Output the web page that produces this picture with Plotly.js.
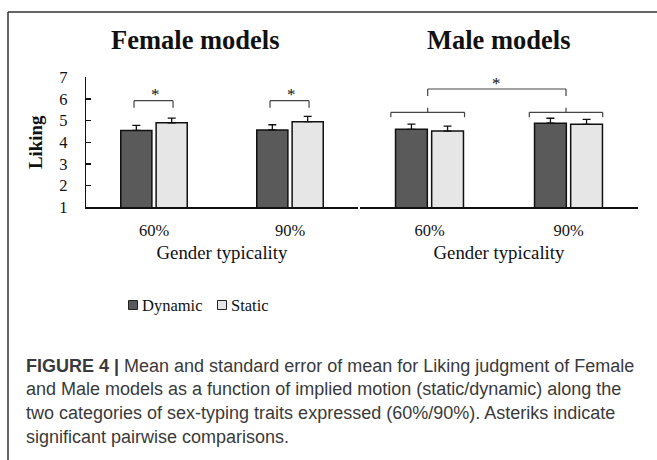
<!DOCTYPE html>
<html>
<head>
<meta charset="utf-8">
<script src="https://cdn.plot.ly/plotly-3.0.1.min.js"></script>
<style>html,body{margin:0;padding:0;background:#fff;}#chart{width:657px;height:460px;}</style>
</head>
<body>
<div id="chart"></div>
<script>
// ---- data ----
const categories = ["60%", "90%"];
const femaleDynamic = [4.55, 4.57];
const femaleDynamicSE = [0.23, 0.24];
const femaleStatic = [4.90, 4.95];
const femaleStaticSE = [0.22, 0.25];
const maleDynamic = [4.60, 4.88];
const maleDynamicSE = [0.24, 0.23];
const maleStatic = [4.52, 4.83];
const maleStaticSE = [0.23, 0.23];
const seriesNames = ["Dynamic", "Static"];
const panelTitles = ["Female models", "Male models"];
const yTicks = [1, 2, 3, 4, 5, 6, 7];
const captionLines = [
  "<b>FIGURE 4 |</b> Mean and standard error of mean for Liking judgment of Female",
  "and Male models as a function of implied motion (static/dynamic) along the",
  "two categories of sex-typing traits expressed (60%/90%). Asteriks indicate",
  "significant pairwise comparisons."
];

const W = 657, H = 460;
const px = x => x / W;
const py = y => 1 - y / H;
const darkFill = "#5a5a5a", lightFill = "#e6e6e6";
const serif = "Liberation Serif, Times New Roman, serif";
const sans = "Liberation Sans, Arial, Helvetica, sans-serif";

function barTrace(y, se, name, fill, xa, ya) {
  return {
    type: "bar", x: categories, y: y, name: name, xaxis: xa, yaxis: ya,
    marker: {color: fill, line: {color: "#111", width: 1.5}},
    error_y: {type: "data", array: se, arrayminus: se.map(() => 0), symmetric: false,
              color: "#111", thickness: 1.3, width: 4},
    showlegend: false, hoverinfo: "skip"
  };
}

const data = [
  barTrace(femaleDynamic, femaleDynamicSE, seriesNames[0], darkFill, "x", "y"),
  barTrace(femaleStatic, femaleStaticSE, seriesNames[1], lightFill, "x", "y"),
  barTrace(maleDynamic, maleDynamicSE, seriesNames[0], darkFill, "x2", "y2"),
  barTrace(maleStatic, maleStaticSE, seriesNames[1], lightFill, "x2", "y2")
];

const yDomain = [py(207.3), py(77.3)];
const xAxisCommon = {
  type: "category", showline: true, linecolor: "#111", linewidth: 1.3,
  ticks: "", showgrid: false, zeroline: false,
  tickfont: {family: serif, size: 16.5, color: "#111"},
  ticklabelstandoff: 8,
  title: {text: "Gender typicality", font: {family: serif, size: 18.8, color: "#111"}, standoff: 6},
  automargin: false
};

const lineStyle = {color: "#444", width: 1.2};
function seg(xref, yref, x0, y0, x1, y1) {
  return {type: "line", xref: xref, yref: yref, x0: x0, y0: y0, x1: x1, y1: y1, line: lineStyle};
}
function bracket(xref, yref, xa, xb, yTop, yFoot) {
  return [seg(xref, yref, xa, yTop, xb, yTop), seg(xref, yref, xa, yTop, xa, yFoot), seg(xref, yref, xb, yTop, xb, yFoot)];
}

let shapes = [];
// female brackets
shapes = shapes.concat(bracket("x", "y", -0.147, 0.14, 5.92, 5.6));
shapes = shapes.concat(bracket("x", "y", 0.853, 1.14, 5.92, 5.6));
// male small brackets with centre ticks
shapes = shapes.concat(bracket("x2", "y2", -0.278, 0.252, 5.384, 5.153));
shapes.push(seg("x2", "y2", -0.013, 5.384, -0.013, 5.6));
shapes = shapes.concat(bracket("x2", "y2", 0.718, 1.246, 5.384, 5.153));
shapes.push(seg("x2", "y2", 0.982, 5.384, 0.982, 5.6));
// male big bracket
shapes = shapes.concat(bracket("x2", "y2", -0.013, 0.982, 6.46, 6.14));

// frame
shapes.push({type: "line", xref: "paper", yref: "paper", x0: px(8), y0: py(12), x1: 1.01, y1: py(12), line: {color: "#333", width: 1.5}});
shapes.push({type: "line", xref: "paper", yref: "paper", x0: px(8), y0: py(12), x1: px(8), y1: -0.01, line: {color: "#333", width: 1.5}});
// legend squares
shapes.push({type: "rect", xref: "paper", yref: "paper", x0: px(128.5), x1: px(137.5), y0: py(309.5), y1: py(300.5), fillcolor: darkFill, line: {color: "#222", width: 1}});
shapes.push({type: "rect", xref: "paper", yref: "paper", x0: px(217.5), x1: px(226.5), y0: py(309.5), y1: py(300.5), fillcolor: lightFill, line: {color: "#222", width: 1}});

const ann = (o) => Object.assign({xref: "paper", yref: "paper", showarrow: false, xanchor: "center", yanchor: "middle"}, o);
const annotations = [
  ann({text: "<b>" + panelTitles[0] + "</b>", x: px(195), y: py(40), font: {family: serif, size: 26.5, color: "#111"}}),
  ann({text: "<b>" + panelTitles[1] + "</b>", x: px(498.5), y: py(40), font: {family: serif, size: 26.5, color: "#111"}}),
  ann({text: "*", x: 0.01, y: 6.22, xref: "x", yref: "y", font: {family: serif, size: 17, color: "#111"}}),
  ann({text: "*", x: 1.01, y: 6.22, xref: "x", yref: "y", font: {family: serif, size: 17, color: "#111"}}),
  ann({text: "*", x: 0.483, y: 6.72, xref: "x2", yref: "y2", font: {family: serif, size: 17, color: "#111"}}),
  ann({text: seriesNames[0], x: px(139.5), y: py(305), xanchor: "left", font: {family: serif, size: 16.5, color: "#111"}}),
  ann({text: seriesNames[1], x: px(228.5), y: py(305), xanchor: "left", font: {family: serif, size: 16.5, color: "#111"}})
];
const capY = [366, 389, 413, 437];
captionLines.forEach((t, i) => {
  annotations.push(ann({text: t, x: px(24), y: py(capY[i]), xanchor: "left",
    font: {family: sans, size: 18, color: "#3a3a3a"}}));
});

const layout = {
  width: W, height: H,
  margin: {l: 0, r: 0, t: 0, b: 0},
  paper_bgcolor: "#fff", plot_bgcolor: "rgba(0,0,0,0)",
  showlegend: false,
  barmode: "group", bargap: 0.48, bargroupgap: 0.12,
  xaxis: Object.assign({}, xAxisCommon, {domain: [px(86), px(358)], anchor: "y"}),
  xaxis2: Object.assign({}, xAxisCommon, {domain: [px(360), px(638)], anchor: "y2"}),
  yaxis: {
    domain: yDomain, range: [1, 7], tickvals: yTicks, ticktext: yTicks.map(String),
    showline: true, linecolor: "#111", linewidth: 1.3, ticks: "inside", ticklen: 5, tickcolor: "#111", tickwidth: 1.3,
    showgrid: false, zeroline: false, tickfont: {family: serif, size: 16.5, color: "#111"},
    ticklabelstandoff: 14, anchor: "x", automargin: false,
    title: {text: "<b>Liking</b>", font: {family: serif, size: 18.8, color: "#111"}, standoff: 11}
  },
  yaxis2: {domain: yDomain, range: [1, 7], visible: false, anchor: "x2"},
  shapes: shapes,
  annotations: annotations
};

Plotly.newPlot("chart", data, layout, {staticPlot: true, displayModeBar: false});
</script>
</body>
</html>
